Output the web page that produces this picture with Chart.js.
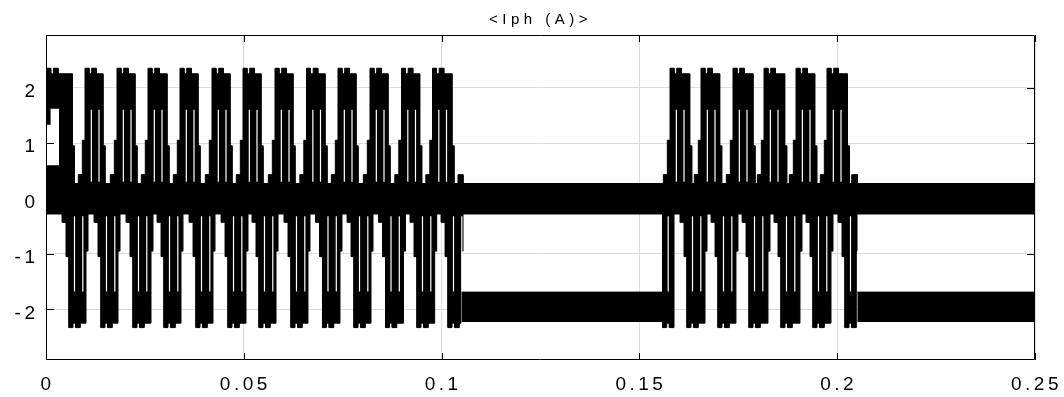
<!DOCTYPE html>
<html>
<head>
<meta charset="utf-8">
<script src="https://cdn.jsdelivr.net/npm/chart.js@4"></script>
<style>
  html, body { margin: 0; padding: 0; background: #fff; }
</style>
</head>
<body>
<canvas id="iph" width="1064" height="397"></canvas>
<script>
// axis ticks
const xTicks = [0, 0.05, 0.1, 0.15, 0.2, 0.25];
const xTickLabels = ['0', '0.05', '0.1', '0.15', '0.2', '0.25'];
const yTicks = [-2, -1, 0, 1, 2];

// positive current bursts (s)
const posStart = [0.00018, 0.00986, 0.01795, 0.02578, 0.03387, 0.04196, 0.04980, 0.05789, 0.06585, 0.07381, 0.08190, 0.08986, 0.09770,
                  0.15774, 0.16557, 0.17366, 0.18150, 0.18959, 0.19742];
const posEnd   = [0.00715, 0.01491, 0.02300, 0.03109, 0.03893, 0.04702, 0.05485, 0.06294, 0.07103, 0.07887, 0.08696, 0.09497, 0.10313,
                  0.16322, 0.17080, 0.17922, 0.18723, 0.19482, 0.20306];
// small bumps left after the last burst of each run
const posTail  = [[0.10414, 0.10541], [0.20367, 0.20508]];

// negative current bursts (s)
const negStart = [0.00581, 0.01390, 0.02199, 0.02983, 0.03792, 0.04601, 0.05384, 0.06193, 0.06989, 0.07786, 0.08582, 0.09378, 0.10162,
                  0.15589, 0.16203, 0.16987, 0.17771, 0.18579, 0.19388, 0.20197];
const negEnd   = [0.01062, 0.01871, 0.02705, 0.03463, 0.04272, 0.05106, 0.05865, 0.06673, 0.07482, 0.08266, 0.09087, 0.09876, 0.10541,
                  0.15849, 0.16709, 0.17492, 0.18301, 0.19110, 0.19894, 0.20501];
const negNoLead = [13];

// levels (A): lead bump, lead shoulder, top, notch, top, shelf, trail shoulder
const posLevels = [0.43, 1.05, 2.35, 2.25, 2.35, 2.25, 0.95];
const negLevels = [-0.43, -1.05, -2.33, -2.25, -2.33, -2.25, -0.95];
const tailLevel = 0.43;
const bandLevels = [0.27, -0.28];

// phase held at -2 A between the runs
const offStart = [0.10508, 0.20508];
const offEnd   = [0.15849, 0.25];
const offLevels = [-1.69, -2.23];

// thin gaps seen inside each burst
const posSlitDt = [0.0016, 0.00354];
const posSlitRange = [1.6, 0.3];
const negSlitDt = [0.00139, 0.00349];
const negSlitRange = [-0.32, -1.68];

// start-up: hollow under the first burst
const startHollow = [[0.00018, 0.00116, 1.33], [0.00116, 0.00329, 1.62]];
const startHollowBase = 0.6;

function burstSegs(s, e, lv, lead) {
  const segs = [];
  if (lead && s > 0.002) {
    segs.push([s - 0.00169, s - 0.00068, lv[0]], [s - 0.00068, s, lv[1]]);
  }
  segs.push([s, s + 0.00101, lv[2]], [s + 0.00101, s + 0.00169, lv[3]], [s + 0.00169, s + 0.00286, lv[4]],
            [s + 0.00286, e - 0.00051, lv[5]], [e - 0.00051, e, lv[6]]);
  return segs;
}

function envelope(segs, base) {
  segs.sort((a, b) => a[0] - b[0]);
  const pts = [{x: 0, y: base}];
  let last = 0;
  segs.forEach(([a, b, v]) => {
    a = Math.max(a, last);
    if (b <= a) return;
    pts.push({x: a, y: base}, {x: a, y: v}, {x: b, y: v}, {x: b, y: base});
    last = b;
  });
  pts.push({x: 0.25, y: base});
  return pts;
}

let upSegs = [];
posStart.forEach((s, i) => { upSegs = upSegs.concat(burstSegs(s, posEnd[i], posLevels, true)); });
posTail.forEach(([a, b]) => upSegs.push([a, b, tailLevel]));

let lowSegs = [];
negStart.forEach((s, i) => { lowSegs = lowSegs.concat(burstSegs(s, negEnd[i], negLevels, !negNoLead.includes(i))); });

const slits = [];
posStart.forEach((s, i) => {
  if (i === 0) return;
  posSlitDt.forEach(d => slits.push({x: s + d, y: posSlitRange[0]}, {x: s + d, y: posSlitRange[1]}, {x: s + d, y: null}));
});
negStart.forEach((s, i) => {
  negSlitDt.forEach(d => {
    if (s + d < negEnd[i]) slits.push({x: s + d, y: negSlitRange[0]}, {x: s + d, y: negSlitRange[1]}, {x: s + d, y: null});
  });
});

const hollow = [];
startHollow.forEach(([a, b, v]) => hollow.push({x: a, y: v}, {x: b, y: v}));

const datasets = [
  // the two envelopes overlap across the band so no seam shows at 0
  {data: envelope(upSegs, bandLevels[0]), fill: {value: bandLevels[1]}, order: 3},
  {data: envelope(lowSegs, bandLevels[1]), fill: {value: bandLevels[0]}, order: 3},
  {data: hollow, fill: {value: startHollowBase}, backgroundColor: '#fff', borderWidth: 0, order: 2},
  {data: slits, borderColor: '#fff', borderWidth: 1.2, spanGaps: false, order: 1}
];
offStart.forEach((a, i) => {
  datasets.push({data: [{x: a, y: offLevels[0]}, {x: offEnd[i], y: offLevels[0]}], fill: {value: offLevels[1]}, order: 3});
});
datasets.forEach(d => {
  d.borderColor = d.borderColor || '#000';
  d.backgroundColor = d.backgroundColor || '#000';
  if (d.borderWidth === undefined) d.borderWidth = 1;
  d.pointRadius = 0;
  d.tension = 0;
});

const tickFont = {family: 'Liberation Sans', size: 19};

const spacing = {
  id: 'spacing',
  beforeDraw(chart) {
    chart.ctx.letterSpacing = '3.5px';
    const tb = chart.titleBlock;
    if (tb && !tb._spaced) {
      const orig = tb.draw;
      tb.draw = function () {
        const c = this.ctx;
        const prev = c.letterSpacing;
        c.letterSpacing = '4.5px';
        orig.apply(this, arguments);
        c.letterSpacing = prev;
      };
      tb._spaced = true;
    }
  }
};

const frame = {
  id: 'frame',
  afterDatasetsDraw(chart) {
    const {ctx, chartArea: a, scales: {x, y}} = chart;
    ctx.save();
    ctx.strokeStyle = '#000';
    ctx.lineWidth = 1;
    ctx.beginPath();
    xTicks.forEach(v => {
      const px = Math.round(x.getPixelForValue(v)) + 0.5;
      ctx.moveTo(px, a.bottom); ctx.lineTo(px, a.bottom - 7);
      ctx.moveTo(px, a.top); ctx.lineTo(px, a.top + 7);
    });
    yTicks.forEach(v => {
      const py = Math.round(y.getPixelForValue(v)) + 0.5;
      ctx.moveTo(a.left, py); ctx.lineTo(a.left + 8, py);
      ctx.moveTo(a.right, py); ctx.lineTo(a.right - 8, py);
    });
    ctx.rect(a.left + 0.5, a.top + 0.5, a.right - a.left - 1, a.bottom - a.top - 1);
    ctx.stroke();
    ctx.restore();
  }
};

new Chart(document.getElementById('iph'), {
  type: 'line',
  data: {datasets},
  plugins: [spacing, frame],
  options: {
    responsive: false,
    animation: false,
    devicePixelRatio: 1,
    events: [],
    plugins: {
      legend: {display: false},
      tooltip: {enabled: false},
      title: {
        display: true,
        text: '<Iph (A)>',
        fullSize: false,
        color: '#000',
        font: {family: 'Liberation Sans', size: 15, weight: 'normal'},
        padding: {top: 11, bottom: 6}
      }
    },
    scales: {
      x: {
        type: 'linear',
        min: 0,
        max: 0.25,
        afterBuildTicks: s => { s.ticks = xTicks.map(v => ({value: v})); },
        afterFit: s => { s.height = 37; s.paddingLeft = 0; s.paddingRight = 29; },
        ticks: {
          autoSkip: false,
          maxRotation: 0,
          color: '#000',
          font: tickFont,
          padding: 13,
          labelOffset: 1.5,
          callback: (v, i) => xTickLabels[i]
        },
        grid: {color: '#dcdcdc', drawTicks: false},
        border: {display: false}
      },
      y: {
        type: 'linear',
        min: -2.915,
        max: 2.95,
        afterBuildTicks: s => { s.ticks = yTicks.map(v => ({value: v})); },
        afterFit: s => { s.width = 46; s.paddingTop = 0; s.paddingBottom = 0; },
        ticks: {
          color: '#000',
          font: tickFont,
          padding: 7.5,
          labelOffset: 4,
          callback: v => String(v)
        },
        grid: {color: '#dcdcdc', drawTicks: false},
        border: {display: false}
      }
    }
  }
});
</script>
</body>
</html>
